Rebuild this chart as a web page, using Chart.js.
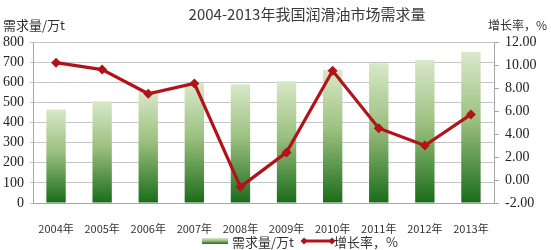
<!DOCTYPE html>
<html>
<head>
<meta charset="utf-8">
<script src="https://cdn.jsdelivr.net/npm/chart.js@4.4.1/dist/chart.umd.min.js"></script>
<style>
  body { margin: 0; background: #fff; }
  canvas { display: block; }
</style>
</head>
<body>
<canvas id="chart" width="551" height="250"></canvas>
<script>
// data
const years = ['2004年', '2005年', '2006年', '2007年', '2008年', '2009年', '2010年', '2011年', '2012年', '2013年'];
const demand = [465, 505, 558, 595, 590, 605, 662, 695, 710, 750];
const growth = [10.2, 9.6, 7.5, 8.4, -0.6, 2.4, 9.5, 4.5, 3.0, 5.7];
const leftTicks = [0, 100, 200, 300, 400, 500, 600, 700, 800];
const rightTicks = [-2, 0, 2, 4, 6, 8, 10, 12];

const titleText = '2004-2013年我国润滑油市场需求量';
const demandLabel = '需求量/万t';
const growthLabel = '增长率，%';

const cjk = '"Noto Sans CJK SC", "Noto Sans", sans-serif';
const serif = '"Liberation Serif", "DejaVu Serif", serif';
const red = '#b0141a';

function barGradient(ctx, top, bottom) {
    const g = ctx.createLinearGradient(0, top, 0, bottom);
    g.addColorStop(0, '#d9e8ca');
    g.addColorStop(0.45, '#9cc07f');
    g.addColorStop(1, '#1a6c1a');
    return g;
}

// titles and legend drawn on the canvas
const extraText = {
    id: 'extraText',
    afterDraw(chart) {
        const c = chart.ctx;
        c.save();
        c.textBaseline = 'middle';
        c.fillStyle = '#3a3a3a';
        c.font = '15px ' + cjk;
        c.textAlign = 'center';
        c.fillText(titleText, 307, 14);

        c.fillStyle = '#333';
        c.font = '13px ' + cjk;
        c.textAlign = 'left';
        c.fillText(demandLabel, 3, 25);
        c.font = '12px ' + cjk;
        c.fillText(growthLabel, 488, 25);

        // legend
        c.fillStyle = barGradient(c, 238, 244);
        c.fillRect(202, 238, 26, 6);
        c.fillStyle = '#333';
        c.font = '13px ' + cjk;
        c.fillText(demandLabel, 232, 242);

        c.strokeStyle = red;
        c.lineWidth = 3;
        c.beginPath();
        c.moveTo(304, 241);
        c.lineTo(332, 241);
        c.stroke();
        c.fillStyle = red;
        [304, 332].forEach(x => {
            c.beginPath();
            c.moveTo(x, 237.5);
            c.lineTo(x + 3.5, 241);
            c.lineTo(x, 244.5);
            c.lineTo(x - 3.5, 241);
            c.closePath();
            c.fill();
        });
        c.fillStyle = '#333';
        c.fillText(growthLabel, 334, 242);
        c.restore();
    }
};

new Chart(document.getElementById('chart'), {
    data: {
        labels: years,
        datasets: [{
            type: 'line',
            label: growthLabel,
            data: growth,
            yAxisID: 'y1',
            borderColor: red,
            backgroundColor: red,
            borderWidth: 3.2,
            tension: 0,
            pointStyle: 'rectRot',
            pointRadius: 5,
            pointBorderWidth: 0,
            order: 1
        }, {
            type: 'bar',
            label: demandLabel,
            data: demand,
            yAxisID: 'y',
            backgroundColor: (ctx) => {
                const chart = ctx.chart;
                if (!chart.chartArea || ctx.raw === undefined) return '#9cc07f';
                const y = chart.scales.y;
                return barGradient(chart.ctx, y.getPixelForValue(ctx.raw), y.getPixelForValue(0));
            },
            categoryPercentage: 1,
            barPercentage: 0.42,
            order: 2
        }]
    },
    options: {
        responsive: false,
        animation: false,
        layout: { padding: { top: 42, bottom: 0, left: 0, right: 0 } },
        plugins: {
            legend: { display: false },
            title: { display: false },
            tooltip: { enabled: false }
        },
        scales: {
            x: {
                grid: { display: false },
                border: { color: '#a6a6a6' },
                ticks: {
                    color: '#333',
                    font: { family: cjk, size: 11 },
                    padding: 11,
                    maxRotation: 0,
                    autoSkip: false
                },
                afterFit: (s) => { s.height = 47; }
            },
            y: {
                position: 'left',
                min: 0,
                max: 800,
                afterBuildTicks: (s) => { s.ticks = leftTicks.map(v => ({ value: v })); },
                grid: { color: '#c6c6c6', tickLength: 3, lineWidth: 1 },
                border: { color: '#a6a6a6' },
                ticks: {
                    color: '#222',
                    font: { family: serif, size: 14 },
                    padding: 6
                },
                afterFit: (s) => { s.width = 33; }
            },
            y1: {
                position: 'right',
                min: -2,
                max: 12,
                afterBuildTicks: (s) => { s.ticks = rightTicks.map(v => ({ value: v })); },
                grid: { drawOnChartArea: false, color: '#a6a6a6', tickLength: 5 },
                border: { color: '#a6a6a6' },
                ticks: {
                    color: '#222',
                    font: { family: serif, size: 14 },
                    padding: 6,
                    callback: (v) => v.toFixed(2)
                },
                afterFit: (s) => { s.width = 57; }
            }
        }
    },
    plugins: [extraText]
});
</script>
</body>
</html>
